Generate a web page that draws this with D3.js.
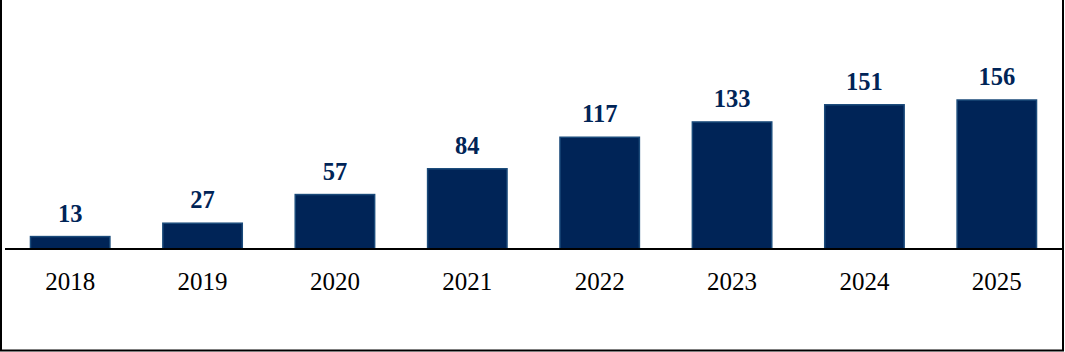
<!DOCTYPE html>
<html>
<head>
<meta charset="utf-8">
<script src="https://cdn.jsdelivr.net/npm/d3@7"></script>
<style>
  body { margin: 0; background: #fff; }
  svg { display: block; }
  text { font-family: "Liberation Serif", "Times New Roman", Times, serif; }
</style>
</head>
<body>
<div id="chart"></div>
<script>
// DATA
const years = ["2018", "2019", "2020", "2021", "2022", "2023", "2024", "2025"]
const values = [13, 27, 57, 84, 117, 133, 151, 156]

const width = 1065
const height = 352
const baseY = 249

const svg = d3.select("#chart")
    .append("svg")
    .attr("width", width)
    .attr("height", height)

// SCALES
const xScale = d3.scaleBand()
    .domain(years)
    .range([4, 1063])
    .paddingInner(0.4)
    .paddingOuter(0.2)

const yScale = d3.scaleLinear()
    .domain([0, 156])
    .range([baseY, 100])

// frame (left, right, bottom)
svg.append("path")
    .attr("d", `M1,0 V${height - 1.5} H${width - 2} V0`)
    .attr("fill", "none")
    .attr("stroke", "#000")
    .attr("stroke-width", 2)

// BARS
svg.append("g")
    .selectAll("rect")
    .data(values)
    .join("rect")
    .attr("x", (d, i) => xScale(years[i]))
    .attr("y", d => yScale(d))
    .attr("width", xScale.bandwidth())
    .attr("height", d => baseY - yScale(d))
    .attr("fill", "#002457")
    .attr("stroke", "#1a4a7a")
    .attr("stroke-width", 1.5)

// baseline axis
const xAxis = d3.axisBottom(xScale).tickSize(0).tickPadding(23)
const axisG = svg.append("g")
    .attr("transform", `translate(0, ${baseY})`)
    .call(xAxis)
axisG.attr("font-family", null)
axisG.select(".domain")
    .attr("d", "M5,0H1062")
    .attr("stroke", "#000")
    .attr("stroke-width", 2)
axisG.selectAll("text")
    .style("font-family", "'Liberation Serif', 'Times New Roman', serif")
    .attr("font-size", 25)
    .attr("fill", "#000")

// VALUE LABELS
svg.append("g")
    .selectAll("text")
    .data(values)
    .join("text")
    .text(d => d)
    .attr("x", (d, i) => xScale(years[i]) + xScale.bandwidth() / 2)
    .attr("y", d => yScale(d) - 15)
    .attr("text-anchor", "middle")
    .style("font-family", "'Liberation Serif', 'Times New Roman', serif")
    .attr("font-weight", "bold")
    .attr("font-size", 24.5)
    .attr("fill", "#002457")
</script>
</body>
</html>
